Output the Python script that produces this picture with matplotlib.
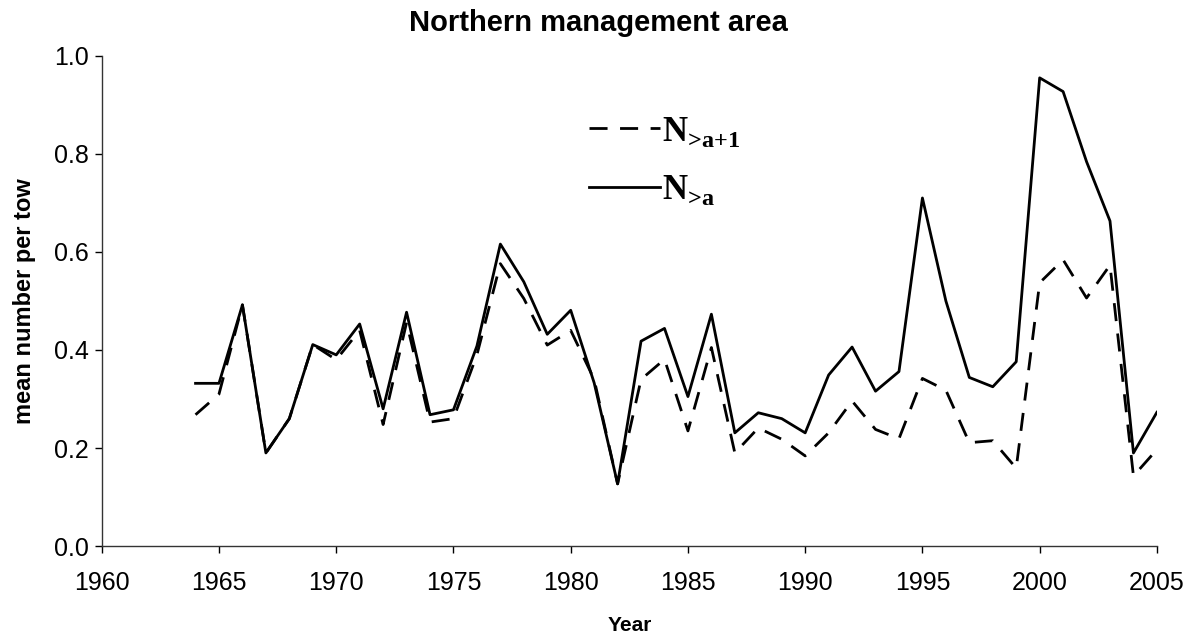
"""Northern management area: mean number per tow by year"""

import matplotlib
matplotlib.use("Agg")
import matplotlib.pyplot as plt

plt.rcParams['font.family'] = ['Liberation Sans', 'DejaVu Sans']
plt.rcParams['mathtext.fontset'] = 'custom'
plt.rcParams['mathtext.rm'] = 'Liberation Serif:bold'
plt.rcParams['mathtext.bf'] = 'Liberation Serif:bold'

years = list(range(1964, 2006))

# N>a (solid line)
n_a = [0.332, 0.332, 0.492, 0.190, 0.260, 0.411, 0.390, 0.453, 0.280, 0.477,
       0.268, 0.278, 0.408, 0.616, 0.539, 0.432, 0.481, 0.333, 0.127, 0.418,
       0.444, 0.305, 0.473, 0.231, 0.272, 0.260, 0.231, 0.349, 0.406, 0.316,
       0.356, 0.710, 0.500, 0.344, 0.325, 0.376, 0.955, 0.927, 0.784, 0.663,
       0.190, 0.273]

# N>a+1 (dashed line)
n_a1 = [0.268, 0.310, 0.492, 0.190, 0.260, 0.411, 0.380, 0.440, 0.248, 0.456,
        0.253, 0.260, 0.390, 0.576, 0.505, 0.410, 0.440, 0.340, 0.127, 0.340,
        0.381, 0.235, 0.405, 0.190, 0.241, 0.218, 0.184, 0.231, 0.296, 0.238,
        0.219, 0.342, 0.318, 0.211, 0.215, 0.159, 0.537, 0.584, 0.506, 0.573,
        0.143, 0.197]

fig = plt.figure(figsize=(11.97, 6.41), dpi=100)
ax = fig.add_axes([0.085, 0.148, 0.8815, 0.765])

ax.plot(years, n_a1, color='black', lw=2.0, linestyle=(0, (6.5, 4.5)),
        label=r'$\mathrm{N}_{\text{>a+1}}$')
ax.plot(years, n_a, color='black', lw=2.0, label=r'$\mathrm{N}_{\text{>a}}$')

ax.set_xlim(1960, 2005)
ax.set_ylim(0, 1.0)
ax.set_xticks(range(1960, 2006, 5))
ax.set_yticks([0.0, 0.2, 0.4, 0.6, 0.8, 1.0])
ax.set_yticklabels(['0.0', '0.2', '0.4', '0.6', '0.8', '1.0'])
ax.tick_params(direction='out', length=5, width=1, labelsize=18, colors='black')
ax.tick_params(axis='x', pad=13)
ax.tick_params(axis='y', pad=4)
for side in ['top', 'right']:
    ax.spines[side].set_visible(False)
for side in ['left', 'bottom']:
    ax.spines[side].set_color('#333333')
    ax.spines[side].set_linewidth(1)

# title is centred on the figure, not the axes
fig.text(0.5, 1 - 31 / 641, 'Northern management area', fontsize=21,
         fontweight='bold', ha='center', va='baseline')
ax.set_xlabel('Year', fontsize=15, fontweight='bold', labelpad=15)
ax.set_ylabel('mean number per tow', fontsize=17, fontweight='bold')
ax.yaxis.set_label_coords(-0.062, 0.5)

leg = ax.legend(loc='upper left', bbox_to_anchor=(0.4618, 0.880), frameon=False,
                fontsize=25, handlelength=2.05, handletextpad=0.05,
                labelspacing=0.71, borderpad=0, borderaxespad=0)

fig.savefig('out.png', dpi=100)
